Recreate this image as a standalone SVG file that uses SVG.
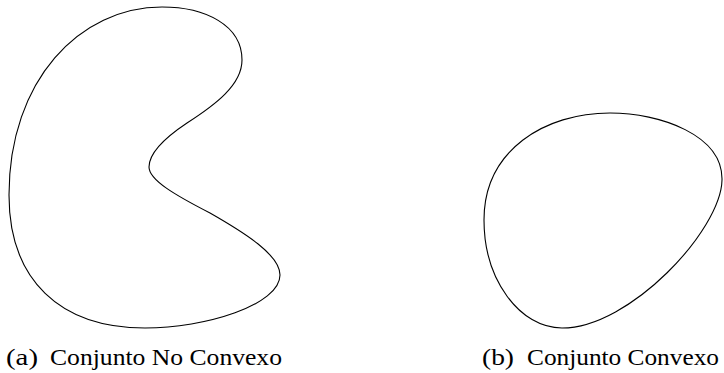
<svg xmlns="http://www.w3.org/2000/svg" width="724" height="373" viewBox="0 0 724 373">
<style>
.shape{fill:none;stroke:#000;stroke-width:1.1}
.lbl{font-family:"Liberation Serif","DejaVu Serif",serif;font-size:24px;fill:#000}
</style>
<rect width="724" height="373" fill="#fff"/>
<g id="nonconvex">
<path class="shape" d="M162,7 C205,7 242,25 242,60 C242,85 215,105 187,123 C160,141 149,155 149,167 C149,180 175,195 210,213 C245,233 280,255 280,275 C280,305 205,328 145,328 C60,328 9,280 9,195 C9,80 80,7 162,7 Z"/>
</g>
<g id="convex">
<path class="shape" d="M610,113 C660,113 723,135 722,180 C721,230 630,328 562,328 C520,328 484,280 484,220 C484,150 545,113 610,113 Z"/>
</g>
<g id="labels">
<text class="lbl" y="365"><tspan x="6" textLength="32" lengthAdjust="spacingAndGlyphs">(a)</tspan><tspan x="50" textLength="232" lengthAdjust="spacingAndGlyphs">Conjunto No Convexo</tspan></text>
<text class="lbl" y="365"><tspan x="482" textLength="32" lengthAdjust="spacingAndGlyphs">(b)</tspan><tspan x="527" textLength="192" lengthAdjust="spacingAndGlyphs">Conjunto Convexo</tspan></text>
</g>
</svg>
